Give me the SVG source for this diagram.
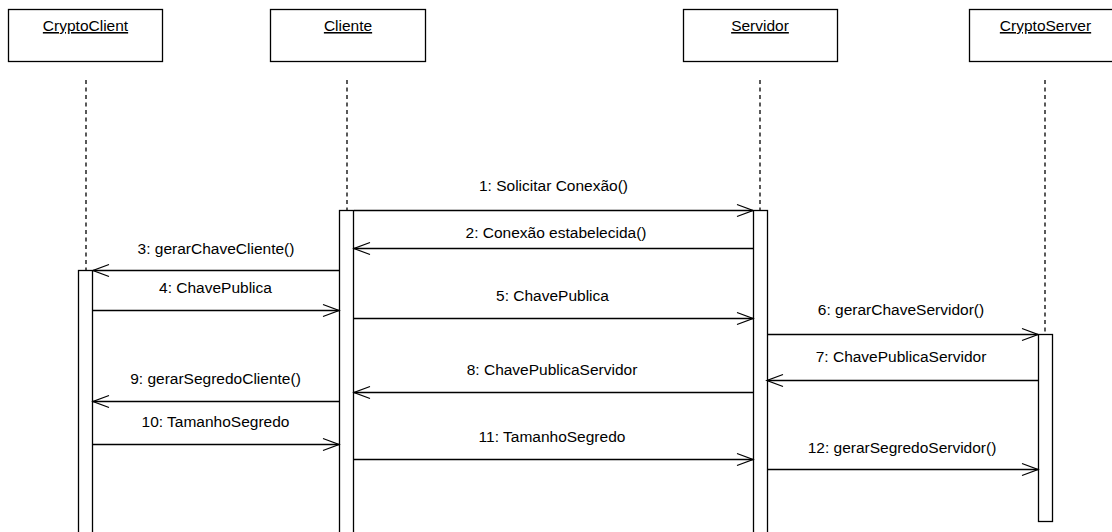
<svg xmlns="http://www.w3.org/2000/svg" width="1112" height="532" viewBox="0 0 1112 532">
<style>
.box{fill:#fff;stroke:#000;stroke-width:1.3}
.act{fill:#fff;stroke:#000;stroke-width:1.3}
.life{stroke:#000;stroke-width:1.3;stroke-dasharray:4 3.5;fill:none}
.msg{stroke:#000;stroke-width:1.3;fill:none;marker-end:url(#open)}
text{font-family:"Liberation Sans",Arial,sans-serif;font-size:15.5px;fill:#000}
.t{text-anchor:middle;text-decoration:underline}
.l{text-anchor:middle}
</style>
<defs>
<marker id="open" markerUnits="userSpaceOnUse" markerWidth="20" markerHeight="16" refX="0" refY="0" viewBox="-18 -8 20 16" orient="auto" overflow="visible">
<path d="M -16 -6 L 0 0 L -16 6" fill="none" stroke="#000" stroke-width="1.3"/>
</marker>
</defs>
<rect width="1112" height="532" fill="#fff"/>
<g id="node-cryptoclient">
<rect class="box" x="8.5" y="9.5" width="154" height="52"/>
<text class="t" x="85.5" y="31">CryptoClient</text>
<line class="life" x1="86" y1="80" x2="86" y2="270"/>
<rect class="act" x="78.5" y="270.5" width="14" height="275"/>
</g>
<g id="node-cliente">
<rect class="box" x="270.5" y="9.5" width="155" height="52"/>
<text class="t" x="348" y="31">Cliente</text>
<line class="life" x1="347" y1="80" x2="347" y2="210"/>
<rect class="act" x="339.5" y="210.5" width="14" height="335"/>
</g>
<g id="node-servidor">
<rect class="box" x="683.5" y="9.5" width="154" height="52"/>
<text class="t" x="760" y="31">Servidor</text>
<line class="life" x1="760" y1="80" x2="760" y2="210"/>
<rect class="act" x="753.5" y="210.5" width="14" height="335"/>
</g>
<g id="node-cryptoserver">
<rect class="box" x="969.5" y="9.5" width="154" height="52"/>
<text class="t" x="1045.5" y="31">CryptoServer</text>
<line class="life" x1="1045" y1="80" x2="1045" y2="334"/>
<rect class="act" x="1038.5" y="334.5" width="14" height="187"/>
</g>
<g id="connectors">
<line class="msg" x1="354" y1="210.5" x2="753" y2="210.5"/>
<text class="l" x="553.5" y="191">1: Solicitar Conexão()</text>
<line class="msg" x1="753" y1="248.5" x2="354" y2="248.5"/>
<text class="l" x="556" y="238">2: Conexão estabelecida()</text>
<line class="msg" x1="339" y1="270.5" x2="93" y2="270.5"/>
<text class="l" x="216" y="254">3: gerarChaveCliente()</text>
<line class="msg" x1="93" y1="310.5" x2="339" y2="310.5"/>
<text class="l" x="215.5" y="293">4: ChavePublica</text>
<line class="msg" x1="354" y1="318.5" x2="753" y2="318.5"/>
<text class="l" x="552.5" y="301">5: ChavePublica</text>
<line class="msg" x1="767" y1="334.5" x2="1038" y2="334.5"/>
<text class="l" x="901" y="315">6: gerarChaveServidor()</text>
<line class="msg" x1="1038" y1="380.5" x2="767" y2="380.5"/>
<text class="l" x="901" y="362">7: ChavePublicaServidor</text>
<line class="msg" x1="753" y1="392.5" x2="354" y2="392.5"/>
<text class="l" x="552" y="375">8: ChavePublicaServidor</text>
<line class="msg" x1="339" y1="401.5" x2="93" y2="401.5"/>
<text class="l" x="215.5" y="384">9: gerarSegredoCliente()</text>
<line class="msg" x1="93" y1="444.5" x2="339" y2="444.5"/>
<text class="l" x="215.5" y="427">10: TamanhoSegredo</text>
<line class="msg" x1="354" y1="459.5" x2="753" y2="459.5"/>
<text class="l" x="552" y="442">11: TamanhoSegredo</text>
<line class="msg" x1="767" y1="469.5" x2="1038" y2="469.5"/>
<text class="l" x="902" y="453">12: gerarSegredoServidor()</text>
</g>
</svg>
